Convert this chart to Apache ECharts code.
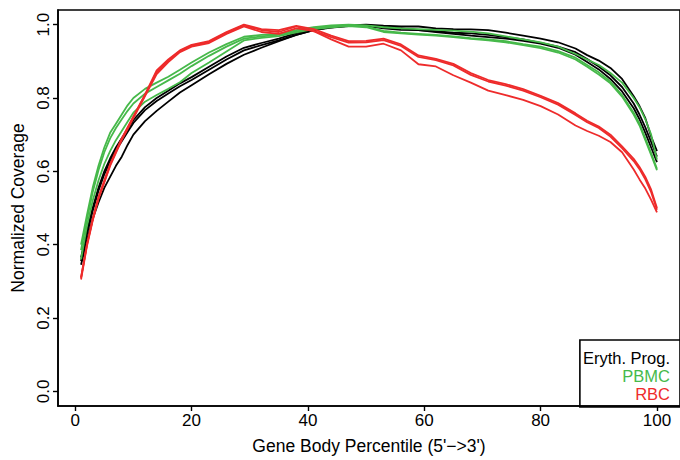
<!DOCTYPE html>
<html>
<head>
<meta charset="utf-8">
<script src="https://cdn.jsdelivr.net/npm/echarts@6/dist/echarts.min.js"></script>
<style>html,body{margin:0;padding:0;background:#fff}#chart{width:680px;height:460px}</style>
</head>
<body>
<div id="chart"></div>
<script>
const percentiles = [1,2,3,4,5,6,7,8,9,10,12,14,16,18,20,23,26,29,32,35,38,41,44,47,50,53,56,59,62,65,68,71,74,77,80,83,86,88,90,92,94,96,97,98,99,100];

const eryth1 = [0.365,0.435,0.50,0.555,0.60,0.635,0.665,0.69,0.715,0.74,0.775,0.80,0.82,0.84,0.857,0.885,0.913,0.937,0.95,0.962,0.977,0.988,0.995,0.998,1.0,0.997,0.995,0.995,0.99,0.988,0.987,0.985,0.978,0.97,0.962,0.952,0.935,0.917,0.902,0.882,0.852,0.805,0.778,0.745,0.695,0.655];
const eryth2 = [0.355,0.427,0.492,0.547,0.592,0.627,0.657,0.682,0.707,0.732,0.767,0.792,0.812,0.832,0.849,0.877,0.905,0.93,0.944,0.957,0.972,0.985,0.992,0.996,0.997,0.99,0.986,0.985,0.982,0.978,0.976,0.972,0.966,0.96,0.95,0.94,0.925,0.906,0.886,0.862,0.83,0.785,0.755,0.72,0.68,0.64];
const eryth3 = [0.345,0.41,0.47,0.515,0.555,0.585,0.615,0.64,0.672,0.70,0.737,0.765,0.79,0.815,0.835,0.865,0.893,0.918,0.937,0.955,0.972,0.985,0.993,0.997,0.998,0.993,0.99,0.985,0.98,0.975,0.97,0.966,0.962,0.956,0.948,0.937,0.918,0.898,0.878,0.852,0.818,0.772,0.742,0.705,0.665,0.625];

const pbmc1 = [0.40,0.48,0.555,0.615,0.665,0.705,0.73,0.755,0.78,0.80,0.825,0.842,0.858,0.877,0.897,0.924,0.947,0.967,0.972,0.975,0.985,0.993,0.998,1.0,0.998,0.993,0.99,0.988,0.986,0.984,0.981,0.976,0.968,0.96,0.952,0.94,0.92,0.905,0.89,0.868,0.842,0.80,0.775,0.742,0.70,0.632];
const pbmc2 = [0.385,0.468,0.543,0.603,0.652,0.69,0.718,0.742,0.765,0.785,0.812,0.83,0.848,0.866,0.887,0.915,0.94,0.962,0.968,0.972,0.982,0.99,0.995,0.998,0.995,0.983,0.978,0.975,0.972,0.968,0.963,0.96,0.955,0.947,0.94,0.928,0.91,0.89,0.87,0.845,0.808,0.76,0.73,0.69,0.65,0.607];
const pbmc3 = [0.36,0.45,0.52,0.575,0.62,0.655,0.685,0.71,0.735,0.76,0.79,0.808,0.825,0.843,0.868,0.897,0.927,0.957,0.964,0.969,0.979,0.988,0.993,0.996,0.993,0.98,0.976,0.973,0.97,0.966,0.961,0.957,0.952,0.944,0.936,0.924,0.905,0.885,0.864,0.84,0.804,0.755,0.725,0.685,0.645,0.603];

const rbc1 = [0.31,0.40,0.47,0.53,0.575,0.62,0.655,0.69,0.72,0.75,0.81,0.875,0.905,0.93,0.945,0.955,0.98,1.0,0.988,0.985,0.997,0.988,0.97,0.955,0.956,0.962,0.946,0.916,0.907,0.893,0.868,0.849,0.838,0.824,0.806,0.786,0.758,0.738,0.722,0.70,0.668,0.634,0.612,0.585,0.55,0.50];
const rbc2 = [0.305,0.395,0.465,0.525,0.57,0.615,0.65,0.685,0.715,0.745,0.805,0.865,0.898,0.925,0.94,0.95,0.975,0.995,0.98,0.975,0.99,0.983,0.966,0.951,0.952,0.958,0.942,0.912,0.903,0.889,0.863,0.845,0.834,0.82,0.802,0.782,0.754,0.734,0.718,0.695,0.663,0.628,0.606,0.578,0.543,0.495];
const rbc3 = [0.31,0.398,0.468,0.528,0.572,0.618,0.653,0.688,0.718,0.748,0.808,0.87,0.902,0.928,0.943,0.953,0.978,0.998,0.985,0.98,0.995,0.982,0.96,0.94,0.94,0.948,0.93,0.892,0.886,0.862,0.842,0.82,0.808,0.795,0.778,0.755,0.725,0.71,0.697,0.68,0.652,0.605,0.578,0.553,0.522,0.488];

const groupNames = ['Eryth. Prog.', 'PBMC', 'RBC'];
const groupColors = ['#000000', '#46B94A', '#EE2B2B'];
const xTicks = [0, 20, 40, 60, 80, 100];
const yTicks = [0, 0.2, 0.4, 0.6, 0.8, 1.0];

const groups = [
  [eryth1, eryth2, eryth3],
  [pbmc1, pbmc2, pbmc3],
  [rbc1, rbc2, rbc3]
];

const FONT = "'Liberation Sans', Arial, Helvetica, sans-serif";

const series = [];
groups.forEach((lines, gi) => {
  lines.forEach(vals => {
    series.push({
      name: groupNames[gi],
      type: 'line',
      showSymbol: false,
      symbol: 'none',
      color: groupColors[gi],
      lineStyle: { width: 1.8, color: groupColors[gi] },
      emphasis: { disabled: true },
      data: percentiles.map((p, i) => [p, vals[i]])
    });
  });
});

const chart = echarts.init(document.getElementById('chart'), null, { renderer: 'svg' });
chart.setOption({
  animation: false,
  backgroundColor: '#fff',
  textStyle: { fontFamily: FONT },
  grid: {
    left: 58, right: 0, top: 10, bottom: 53,
    show: true, borderColor: '#000', borderWidth: 1.6, backgroundColor: 'transparent'
  },
  legend: {
    orient: 'vertical',
    align: 'right',
    right: -2,
    bottom: 53,
    icon: 'none',
    itemWidth: 0,
    itemHeight: 16,
    itemGap: 1,
    padding: [9, 7, 5, 3],
    borderColor: '#000',
    borderWidth: 1.6,
    selectedMode: false,
    data: groupNames.map((n, i) => ({ name: n, textStyle: { color: groupColors[i] } })),
    textStyle: { fontFamily: FONT, fontSize: 16.5 }
  },
  xAxis: {
    type: 'value',
    min: -2.96,
    max: 103.96,
    name: "Gene Body Percentile (5'\u2212>3')",
    nameLocation: 'middle',
    nameGap: 31,
    nameTextStyle: { fontFamily: FONT, fontSize: 17.5, color: '#000' },
    axisLine: { show: true, onZero: false, lineStyle: { color: '#000', width: 1.6 } },
    axisTick: { show: true, length: 5, customValues: xTicks, lineStyle: { color: '#000', width: 1.4 } },
    axisLabel: { customValues: xTicks, margin: 6, fontFamily: FONT, fontSize: 17, color: '#000' },
    splitLine: { show: false }
  },
  yAxis: {
    type: 'value',
    min: -0.04,
    max: 1.04,
    name: 'Normalized Coverage',
    nameLocation: 'middle',
    nameGap: 31,
    nameTextStyle: { fontFamily: FONT, fontSize: 17.5, color: '#000' },
    axisLine: { show: true, onZero: false, lineStyle: { color: '#000', width: 1.6 } },
    axisTick: { show: true, length: 5, customValues: yTicks, lineStyle: { color: '#000', width: 1.4 } },
    axisLabel: { customValues: yTicks, rotate: 90, margin: 6, fontFamily: FONT, fontSize: 17, color: '#000', formatter: v => Number(v).toFixed(1) },
    splitLine: { show: false }
  },
  series: series
});
</script>
</body>
</html>
